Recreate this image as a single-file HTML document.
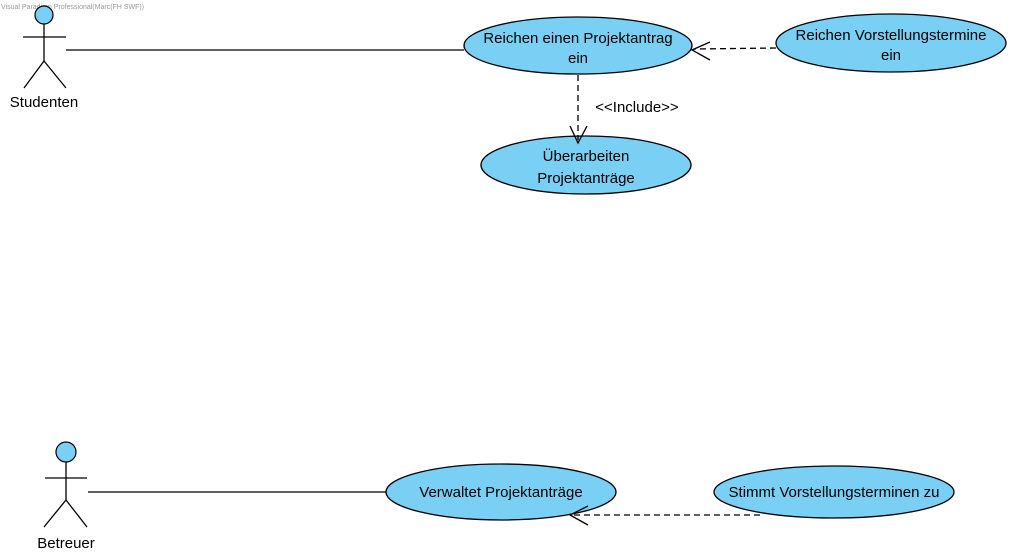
<!DOCTYPE html>
<html><head><meta charset="utf-8"><style>
html,body{margin:0;padding:0;background:#fff;width:1011px;height:557px;overflow:hidden}
text{font-family:"Liberation Sans",sans-serif;}
</style></head><body>
<svg width="1011" height="557" viewBox="0 0 1011 557" xmlns="http://www.w3.org/2000/svg">
<text x="1" y="9" font-size="7" fill="#999">Visual Paradigm Professional(Marc(FH SWF))</text>
<g stroke="#000" stroke-width="1.3" fill="none">
<line x1="66" y1="50" x2="464" y2="50"/>
<line x1="88" y1="492" x2="386" y2="492"/>
<line x1="44" y1="24" x2="44" y2="61"/>
<line x1="23" y1="37" x2="66" y2="37"/>
<line x1="44" y1="61" x2="24" y2="88"/>
<line x1="44" y1="61" x2="66" y2="88"/>
<line x1="66" y1="462" x2="66" y2="500"/>
<line x1="45" y1="478" x2="87" y2="478"/>
<line x1="66" y1="500" x2="44" y2="527"/>
<line x1="66" y1="500" x2="87" y2="527"/>
</g>
<circle cx="44" cy="15" r="9" fill="#7acff5" stroke="#000" stroke-width="1.2"/>
<circle cx="66" cy="452" r="10" fill="#7acff5" stroke="#000" stroke-width="1.2"/>
<text x="44" y="107" font-size="15" text-anchor="middle">Studenten</text>
<text x="66" y="548" font-size="15" text-anchor="middle">Betreuer</text>
<g fill="#7acff5" stroke="#000" stroke-width="1.3">
<ellipse cx="578" cy="45.5" rx="114" ry="28.5"/>
<ellipse cx="891" cy="43" rx="115" ry="29"/>
<ellipse cx="586" cy="165" rx="105" ry="29"/>
<ellipse cx="501" cy="492" rx="115" ry="28"/>
<ellipse cx="834" cy="492" rx="120" ry="26"/>
</g>
<g stroke="#000" stroke-width="1.3" fill="none" stroke-dasharray="6,4">
<line x1="776" y1="48" x2="694" y2="49"/>
<line x1="578" y1="75" x2="578" y2="140"/>
<line x1="760" y1="515" x2="570" y2="515"/>
</g>
<g stroke="#000" stroke-width="1.3" fill="none">
<polyline points="710,42 692,50 710,60"/>
<polyline points="570,126 578,143 587,126"/>
<polyline points="588,506 570,515 588,525"/>
</g>
<g font-size="15" text-anchor="middle">
<text x="578" y="43">Reichen einen Projektantrag</text>
<text x="578" y="63">ein</text>
<text x="891" y="40">Reichen Vorstellungstermine</text>
<text x="891" y="60">ein</text>
<text x="586" y="161">Überarbeiten</text>
<text x="586" y="183">Projektanträge</text>
<text x="501" y="497">Verwaltet Projektanträge</text>
<text x="834" y="497">Stimmt Vorstellungsterminen zu</text>
<text x="637" y="112">&lt;&lt;Include&gt;&gt;</text>
</g>
</svg>
</body></html>
